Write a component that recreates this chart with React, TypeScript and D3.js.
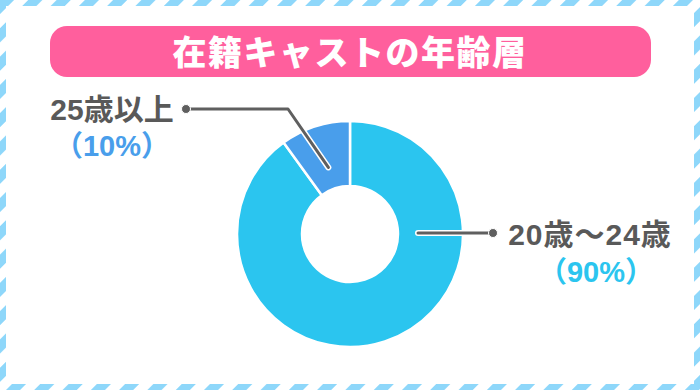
import React from "react";
import * as d3 from "d3";

const TITLE = "在籍キャストの年齢層";
const categories = ["20歳〜24歳", "25歳以上"];
const values = [90, 10];
const percentLabels = ["（90%）", "（10%）"];
const sliceColors = ["#2bc5ef", "#499eeb"];

const W = 700;
const H = 390;
const CX = 350;
const CY = 234;
const R_OUT = 113;
const R_IN = 48;

export default function App() {
  const pie = d3
    .pie<number>()
    .sort(null)
    .startAngle(0)
    .endAngle(2 * Math.PI)
    .value((d) => d);
  const arcs = pie(values);
  const arcGen = d3.arc<d3.PieArcDatum<number>>().innerRadius(R_IN).outerRadius(R_OUT);
  const anchorArc = d3.arc<any>().innerRadius(70).outerRadius(70);

  const a1 = anchorArc.centroid(arcs[1] as any);
  const p1 = [CX + a1[0], CY + a1[1]];
  const elbow1 = [288, 109];
  const dot1 = [186, 109];

  const a0 = anchorArc.centroid({ startAngle: Math.PI / 2, endAngle: Math.PI / 2 } as any);
  const p0 = [CX + a0[0] - 2, CY + a0[1] - 1];
  const dot0 = [493, p0[1]];

  const lineStr = (pts: number[][]) => d3.line()(pts as [number, number][]) as string;

  const labelFont = "'Liberation Sans', 'Noto Sans CJK JP', sans-serif";

  return (
    <svg
      width={W}
      height={H}
      style={{ position: "absolute", left: 0, top: 0, display: "block" }}
    >
      <defs>
        <pattern
          id="stripes"
          patternUnits="userSpaceOnUse"
          width={20}
          height={20}
          patternTransform="rotate(45)"
        >
          <rect x={0} y={0} width={10} height={20} fill="#8ed7fa" />
        </pattern>
      </defs>
      <rect x={0} y={0} width={W} height={H} fill="#ffffff" />
      <rect x={0} y={0} width={W} height={H} fill="url(#stripes)" />
      <rect x={6} y={6} width={W - 12} height={H - 12} fill="#ffffff" />

      <rect x={50} y={26} width={601} height={51} rx={17} ry={17} fill="#ff5f9d" />
      <text
        x={350}
        y={65}
        textAnchor="middle"
        fill="#ffffff"
        fontSize={34}
        fontWeight={900}
        letterSpacing={1.5}
        fontFamily="'Noto Sans CJK JP', sans-serif"
      >
        {TITLE}
      </text>

      <g transform={`translate(${CX},${CY})`}>
        {arcs.map((a, i) => (
          <path key={i} d={arcGen(a) as string} fill={sliceColors[i]} stroke="#ffffff" strokeWidth={2.5} />
        ))}
      </g>

      <g fill="none" strokeLinecap="round" strokeLinejoin="round">
        <path d={lineStr([dot1, elbow1, p1])} stroke="#ffffff" strokeWidth={6} />
        <path d={lineStr([dot1, elbow1, p1])} stroke="#5f5f5f" strokeWidth={3} />
        <path d={lineStr([p0, dot0])} stroke="#ffffff" strokeWidth={6} />
        <path d={lineStr([p0, dot0])} stroke="#5f5f5f" strokeWidth={3} />
      </g>
      <circle cx={dot1[0]} cy={dot1[1]} r={4.5} fill="#5f5f5f" stroke="#ffffff" strokeWidth={1} />
      <circle cx={dot0[0]} cy={dot0[1]} r={4.5} fill="#5f5f5f" stroke="#ffffff" strokeWidth={1} />

      <g fontFamily={labelFont} fontWeight={700}>
        <text x={112} y={120} textAnchor="middle" fontSize={30} fill="#595959">
          {categories[1]}
        </text>
        <text x={112} y={156} textAnchor="middle" fontSize={29} fill={sliceColors[1]}>
          {percentLabels[1]}
        </text>
        <text x={590} y={245} textAnchor="middle" fontSize={30} letterSpacing={1} fill="#595959">
          {categories[0]}
        </text>
        <text x={596} y={282} textAnchor="middle" fontSize={29} fill={sliceColors[0]}>
          {percentLabels[0]}
        </text>
      </g>
    </svg>
  );
}
